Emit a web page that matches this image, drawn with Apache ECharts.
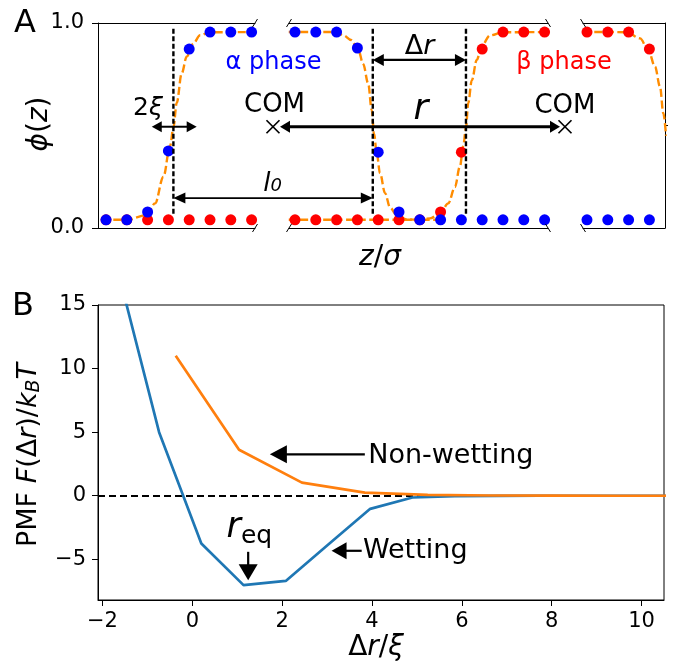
<!DOCTYPE html>
<html><head><meta charset="utf-8">
<script src="https://cdn.jsdelivr.net/npm/echarts@6/dist/echarts.min.js"></script>
<style>html,body{margin:0;padding:0;background:#fff}#c{width:673px;height:664px}</style>
</head><body><div id="c"></div>
<script>
// ===================== DATA =====================
// Panel A: lattice index z and order parameter phi, three broken-axis segments
const seg1Z = [0, 1, 2, 3, 4, 5, 6, 7];
const seg1Blue = [0.04, 0.04, 0.078, 0.376, 0.873, 0.956, 0.956, 0.956];
const seg1Red = [0.04, 0.04, 0.04, 0.04, 0.04, 0.04, 0.04, 0.04];
const seg2Z = [10, 11, 12, 13, 14, 15, 16, 17, 18, 19, 20, 21, 22];
const seg2Blue = [0.956, 0.956, 0.956, 0.878, 0.37, 0.078, 0.04, 0.04, 0.04, 0.04, 0.04, 0.04, 0.04];
const seg2Red = [0.04, 0.04, 0.04, 0.04, 0.04, 0.04, 0.04, 0.078, 0.37, 0.873, 0.956, 0.956, 0.956];
const seg3Z = [30, 31, 32, 33];
const seg3Blue = [0.04, 0.04, 0.04, 0.04];
const seg3Red = [0.956, 0.956, 0.956, 0.873];
// orange dashed profile fits
const alpha1CurveZ = [-0.2, 1.0, 1.96, 2.36, 2.76, 3.08, 3.24, 3.4, 3.64, 3.88, 4.2, 4.52, 5.0, 7.2];
const alpha1CurvePhi = [0.04, 0.04, 0.063, 0.12, 0.25, 0.40, 0.49, 0.61, 0.755, 0.836, 0.90, 0.94, 0.955, 0.956];
const alpha2CurveZ = [9.7, 12.0, 12.32, 12.7, 13.04, 13.28, 13.52, 13.69, 13.8, 13.93, 14.09, 14.33, 14.57, 14.89, 15.37, 16.0, 17.0];
const alpha2CurvePhi = [0.956, 0.956, 0.94, 0.917, 0.87, 0.80, 0.705, 0.575, 0.46, 0.364, 0.267, 0.17, 0.10, 0.063, 0.042, 0.04, 0.04];
const beta2CurveZ = [9.7, 16.0, 16.49, 16.97, 17.37, 17.69, 17.93, 18.09, 18.22, 18.33, 18.5, 18.74, 18.98, 19.38, 20.0, 22.2];
const beta2CurvePhi = [0.04, 0.04, 0.047, 0.072, 0.12, 0.20, 0.30, 0.40, 0.49, 0.61, 0.72, 0.82, 0.89, 0.94, 0.955, 0.956];
const beta3CurveZ = [29.8, 31.0, 31.91, 32.55, 32.95, 33.27, 33.51, 33.67, 33.8];
const beta3CurvePhi = [0.956, 0.956, 0.955, 0.925, 0.868, 0.787, 0.69, 0.56, 0.45];
const aYTicks = [0, 1];

// Panel A annotations
const interfaceSeg1 = [3.24];
const interfaceSeg2 = [13.74, 18.22];
const interfacePhi = [0.07, 0.975];
const comFrac = [0.3086, 0.8236];          // overlay fraction of panel width
const comPhi = 0.494;
const arrowRFrac = [0.321, 0.8148];
const arrowTwoXiZ = [2.2, 4.36];  const arrowTwoXiPhi = 0.494;
const arrowDrZ = [13.74, 18.22];  const arrowDrPhi = 0.82;
const arrowL0Z = [3.24, 13.74];   const arrowL0Phi = 0.146;

// Panel B: PMF curves
const wetX = [-1.68, -0.74, 0.2, 1.14, 2.08, 3.02, 3.96, 4.9, 5.84, 6.78, 7.72, 8.66, 9.6, 10.54];
const wetY = [18.0, 5.0, -3.75, -7.03, -6.7, -3.85, -1.03, -0.14, -0.03, -0.01, 0, 0, 0, 0];
const nonX = [-0.37, 1.04, 2.44, 3.84, 5.24, 6.64, 8.04, 9.44, 10.84];
const nonY = [11.0, 3.62, 1.03, 0.25, 0.06, 0.02, 0.01, 0.0, 0.0];
const bXTicks = [-2, 0, 2, 4, 6, 8, 10];
const bYTicks = [-5, 0, 5, 10, 15];
const bXRange = [-2.1, 10.5];
const bYRange = [-8.2, 15];
// Panel B annotations (data coords)
const arrowNonWet = [[3.84, 3.26], [1.726, 3.26]];
const arrowWet = [[3.77, -4.33], [3.10, -4.33]];
const arrowReq = [[1.243, -4.41], [1.243, -6.64]];

// ===================== LAYOUT =====================
const FONT = 'DejaVu Sans';
const SEG = [
  {left: 98, width: 157, min: -0.385, max: 7.163},
  {left: 289, width: 259, min: 9.712, max: 22.164},
  {left: 583, width: 82, min: 29.808, max: 33.75}
];
const A_TOP = 23, A_H = 205;
const PB = {left: 98, top: 305, width: 566, height: 295};
const ORANGE = '#ff8c00', RED = '#ff0000', BLUE = '#0000ff';

const zip = (a, b) => a.map((v, i) => [v, b[i]]);
const axLine = {show: true, onZero: false, lineStyle: {color: '#000', width: 1}};
const tickStyle = {color: '#000', width: 1};
const tickFont = {fontSize: 21, color: '#000', fontFamily: FONT};
const fmtMinus = v => (v < 0 ? '\u2212' + Math.abs(v) : String(v));

function segX(i, pos) {
  return {type: 'value', gridIndex: i, position: pos, min: SEG[i].min, max: SEG[i].max,
    axisLine: axLine, axisTick: {show: false}, axisLabel: {show: false}, splitLine: {show: false}};
}
const grid = SEG.map(s => ({left: s.left, top: A_TOP, width: s.width, height: A_H, containLabel: false, outerBoundsMode: 'none'}));
grid.push({left: SEG[0].left, top: A_TOP, width: SEG[2].left + SEG[2].width - SEG[0].left, height: A_H, containLabel: false, outerBoundsMode: 'none'});
grid.push({left: PB.left, top: PB.top, width: PB.width, height: PB.height, show: true, borderColor: '#000', borderWidth: 1, containLabel: false, outerBoundsMode: 'none'});

const dashedProfile = {color: ORANGE, width: 2.4, type: [8, 3.5]};
function profile(xi, yi, zs, ps) {
  return {type: 'line', xAxisIndex: xi, yAxisIndex: yi, data: zip(zs, ps), symbol: 'none', showSymbol: false,
    smooth: 0.35, smoothMonotone: 'x', lineStyle: dashedProfile, z: 2, silent: true, clip: true};
}
function dots(xi, yi, zs, ps, color, z) {
  return {type: 'scatter', xAxisIndex: xi, yAxisIndex: yi, data: zip(zs, ps), symbolSize: 11,
    itemStyle: {color: color, opacity: 1}, z: z, silent: true};
}

const option = {
  animation: false,
  textStyle: {fontFamily: FONT},
  grid: grid,
  xAxis: [segX(0, 'bottom'), segX(0, 'top'), segX(1, 'bottom'), segX(1, 'top'), segX(2, 'bottom'), segX(2, 'top'),
    {type: 'value', gridIndex: 3, min: 0, max: 1, show: false},
    {type: 'value', gridIndex: 4, min: bXRange[0], max: bXRange[1], axisLine: axLine,
      axisTick: {show: true, customValues: bXTicks, length: 6, lineStyle: tickStyle},
      axisLabel: Object.assign({show: true, customValues: bXTicks, formatter: fmtMinus, margin: 11}, tickFont),
      splitLine: {show: false}}
  ],
  yAxis: [
    {type: 'value', gridIndex: 0, min: 0, max: 1, axisLine: axLine,
      axisTick: {show: true, customValues: aYTicks, length: 6, lineStyle: tickStyle},
      axisLabel: Object.assign({show: true, customValues: aYTicks, formatter: v => Number(v).toFixed(1), margin: 14}, tickFont),
      splitLine: {show: false}},
    {type: 'value', gridIndex: 1, min: 0, max: 1, show: false},
    {type: 'value', gridIndex: 2, min: 0, max: 1, position: 'right', axisLine: axLine,
      axisTick: {show: true, customValues: [0.5], length: 3, lineStyle: tickStyle},
      axisLabel: {show: false}, splitLine: {show: false}},
    {type: 'value', gridIndex: 3, min: 0, max: 1, show: false},
    {type: 'value', gridIndex: 4, min: bYRange[0], max: bYRange[1], axisLine: axLine,
      axisTick: {show: true, customValues: bYTicks, length: 6, lineStyle: tickStyle},
      axisLabel: Object.assign({show: true, customValues: bYTicks, formatter: fmtMinus, margin: 12}, tickFont),
      splitLine: {show: false}}
  ],
  series: [
    profile(0, 0, alpha1CurveZ, alpha1CurvePhi),
    profile(2, 1, alpha2CurveZ, alpha2CurvePhi),
    profile(2, 1, beta2CurveZ, beta2CurvePhi),
    profile(4, 2, beta3CurveZ, beta3CurvePhi),
    dots(0, 0, seg1Z, seg1Red, RED, 3),
    dots(0, 0, seg1Z, seg1Blue, BLUE, 4),
    dots(2, 1, seg2Z, seg2Red, RED, 3),
    dots(2, 1, seg2Z, seg2Blue, BLUE, 4),
    dots(4, 2, seg3Z, seg3Blue, BLUE, 3),
    dots(4, 2, seg3Z, seg3Red, RED, 4),
    {type: 'line', name: 'Wetting', xAxisIndex: 7, yAxisIndex: 4, data: zip(wetX, wetY), symbol: 'none', showSymbol: false,
      lineStyle: {color: '#1f77b4', width: 2.7}, z: 10, silent: true, clip: true,
      markLine: {silent: true, symbol: ['none', 'none'], label: {show: false},
        lineStyle: {color: '#000', type: [7, 4], width: 2}, emphasis: {disabled: true}, data: [{yAxis: 0}]}},
    {type: 'line', name: 'Non-wetting', xAxisIndex: 7, yAxisIndex: 4, data: zip(nonX, nonY), symbol: 'none', showSymbol: false,
      lineStyle: {color: '#ff7f0e', width: 2.7}, z: 11, silent: true, clip: true}
  ]
};

const chart = echarts.init(document.getElementById('c'), null, {renderer: 'canvas'});
chart.setOption(option);

// ===================== ANNOTATIONS =====================
const px = (xi, yi, pt) => chart.convertToPixel({xAxisIndex: xi, yAxisIndex: yi}, pt);
const mctx = document.createElement('canvas').getContext('2d');
const fontStr = (p, s) => (p.it ? 'italic ' : '') + (p.s || s) + 'px "' + FONT + '"';

function pieces(list, x, y, size, opts) {
  opts = opts || {};
  const widths = list.map(p => { mctx.font = fontStr(p, size); return mctx.measureText(p.t).width; });
  const total = widths.reduce((a, b) => a + b, 0);
  let cx = opts.align === 'left' ? 0 : -total / 2;
  const children = list.map((p, i) => {
    const el = {type: 'text', x: cx, y: p.dy || 0, z: 100, silent: true,
      style: {text: p.t, fontSize: p.s || size, fontFamily: FONT, fontStyle: p.it ? 'italic' : 'normal',
        fill: opts.color || '#000', align: 'left', verticalAlign: 'middle', textAlign: 'left', textVerticalAlign: 'middle'}};
    cx += widths[i];
    return el;
  });
  return {type: 'group', x: x, y: y, rotation: opts.rot || 0, z: 100, silent: true, children: children};
}

function arrow(tail, tip, lw, L, W, both) {
  const dx = tip[0] - tail[0], dy = tip[1] - tail[1];
  const len = Math.hypot(dx, dy), ux = dx / len, uy = dy / len, nx = -uy, ny = ux;
  const head = (p, sx, sy) => ({type: 'polygon', z: 101, silent: true,
    shape: {points: [[p[0], p[1]], [p[0] - sx * L + nx * W / 2, p[1] - sy * L + ny * W / 2], [p[0] - sx * L - nx * W / 2, p[1] - sy * L - ny * W / 2]]},
    style: {fill: '#000'}});
  const s = both ? [tail[0] + ux * L * 0.8, tail[1] + uy * L * 0.8] : tail;
  const e = [tip[0] - ux * L * 0.8, tip[1] - uy * L * 0.8];
  const els = [{type: 'line', z: 100, silent: true, shape: {x1: s[0], y1: s[1], x2: e[0], y2: e[1]}, style: {stroke: '#000', lineWidth: lw}}];
  els.push(head(tip, ux, uy));
  if (both) els.push(head(tail, -ux, -uy));
  return els;
}
function vline(p0, p1) {
  return {type: 'line', z: 99, silent: true, shape: {x1: p0[0], y1: p0[1], x2: p1[0], y2: p1[1]},
    style: {stroke: '#000', lineWidth: 2.4, lineDash: [5, 2.5]}};
}
function cross(c, r) {
  return [
    {type: 'line', z: 101, silent: true, shape: {x1: c[0] - r, y1: c[1] - r, x2: c[0] + r, y2: c[1] + r}, style: {stroke: '#000', lineWidth: 1.7}},
    {type: 'line', z: 101, silent: true, shape: {x1: c[0] - r, y1: c[1] + r, x2: c[0] + r, y2: c[1] - r}, style: {stroke: '#000', lineWidth: 1.7}}
  ];
}

let G = [];
// interface dashed lines
interfaceSeg1.forEach(z => G.push(vline(px(0, 0, [z, interfacePhi[0]]), px(0, 0, [z, interfacePhi[1]]))));
interfaceSeg2.forEach(z => G.push(vline(px(2, 1, [z, interfacePhi[0]]), px(2, 1, [z, interfacePhi[1]]))));
// arrows panel A
G = G.concat(arrow(px(0, 0, [arrowTwoXiZ[0], arrowTwoXiPhi]), px(0, 0, [arrowTwoXiZ[1], arrowTwoXiPhi]), 2, 10, 11, true));
G = G.concat(arrow(px(2, 1, [arrowDrZ[0], arrowDrPhi]), px(2, 1, [arrowDrZ[1], arrowDrPhi]), 2.2, 11, 12, true));
G = G.concat(arrow(px(6, 3, [arrowRFrac[0], comPhi]), px(6, 3, [arrowRFrac[1], comPhi]), 3.2, 10, 12, true));
G = G.concat(arrow(px(0, 0, [arrowL0Z[0], arrowL0Phi]), px(2, 1, [arrowL0Z[1], arrowL0Phi]), 1.8, 12, 11, true));
comFrac.forEach(f => { G = G.concat(cross(px(6, 3, [f, comPhi]), 6.5)); });
// texts panel A
const tA = (fx, phi) => px(6, 3, [fx, phi]);
let p;
p = tA(0.3113, 0.597); G.push(pieces([{t: 'COM'}], p[0], p[1], 26));
p = tA(0.8236, 0.594); G.push(pieces([{t: 'COM'}], p[0], p[1], 26));
p = tA(0.3095, 0.805); G.push(pieces([{t: '\u03b1 phase'}], p[0], p[1], 24, {color: BLUE}));
p = tA(0.8219, 0.805); G.push(pieces([{t: '\u03b2 phase'}], p[0], p[1], 24, {color: RED}));
p = tA(0.5697, 0.579); G.push(pieces([{t: 'r', it: true}], p[0], p[1], 36));
p = tA(0.567, 0.881); G.push(pieces([{t: '\u0394'}, {t: 'r', it: true}], p[0], p[1], 27));
p = tA(0.0882, 0.583); G.push(pieces([{t: '2'}, {t: '\u03be', it: true}], p[0], p[1], 25));
p = tA(0.3078, 0.2146); G.push(pieces([{t: 'l', it: true}, {t: '0', it: true, s: 18, dy: 2}], p[0], p[1], 26));
// break marks
const breaks = [[SEG[0].left + SEG[0].width, 1], [SEG[1].left, 1], [SEG[1].left + SEG[1].width, -1], [SEG[2].left, -1]];
breaks.forEach(b => [A_TOP, A_TOP + A_H].forEach(y => G.push({type: 'line', z: 101, silent: true,
  shape: {x1: b[0] - 2.5, y1: y + b[1] * 4, x2: b[0] + 2.5, y2: y - b[1] * 4}, style: {stroke: '#000', lineWidth: 1}})));
// arrows panel B
G = G.concat(arrow(px(7, 4, arrowNonWet[0]), px(7, 4, arrowNonWet[1]), 2.2, 17, 18, false));
G = G.concat(arrow(px(7, 4, arrowWet[0]), px(7, 4, arrowWet[1]), 2.2, 15, 17, false));
G = G.concat(arrow(px(7, 4, arrowReq[0]), px(7, 4, arrowReq[1]), 2.2, 16, 19, false));
// texts panel B
p = px(7, 4, [3.915, 3.16]); G.push(pieces([{t: 'Non-wetting'}], p[0], p[1], 27, {align: 'left'}));
p = px(7, 4, [3.797, -4.32]); G.push(pieces([{t: 'Wetting'}], p[0], p[1], 27, {align: 'left'}));
p = px(7, 4, [0.762, -2.50]); G.push(pieces([{t: 'r', it: true}, {t: 'eq', s: 25, dy: 9.3}], p[0], p[1], 35, {align: 'left'}));
// axis titles & panel letters
G.push(pieces([{t: '\u03d5', it: true}, {t: '('}, {t: 'z', it: true}, {t: ')'}], 40, 124, 28, {rot: Math.PI / 2}));
G.push(pieces([{t: 'PMF '}, {t: 'F', it: true}, {t: '('}, {t: '\u0394'}, {t: 'r', it: true}, {t: ')'}, {t: '/'},
  {t: 'k', it: true}, {t: 'B', it: true, s: 19, dy: 5}, {t: 'T', it: true}], 29, 455, 27, {rot: Math.PI / 2}));
G.push(pieces([{t: 'z', it: true}, {t: '/'}, {t: '\u03c3', it: true}], 380, 258, 28));
G.push(pieces([{t: '\u0394'}, {t: 'r', it: true}, {t: '/'}, {t: '\u03be', it: true}], 376, 648, 28));
G.push(pieces([{t: 'A'}], 25, 24, 32));
G.push(pieces([{t: 'B'}], 23, 307, 32));

chart.setOption({graphic: {elements: G}});
</script></body></html>
